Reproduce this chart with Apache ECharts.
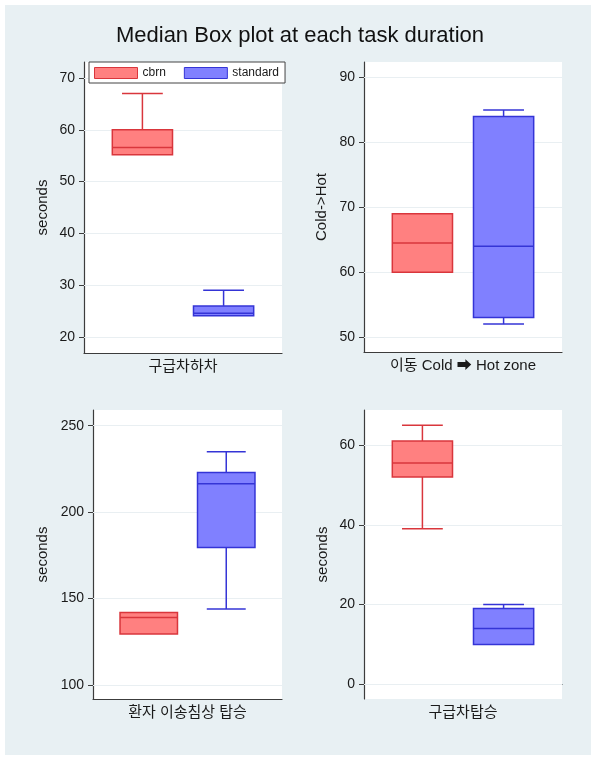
<!DOCTYPE html>
<html>
<head>
<meta charset="utf-8">
<script src="https://cdn.jsdelivr.net/npm/echarts@6/dist/echarts.min.js"></script>
<style>
  html, body { margin: 0; padding: 0; background: #ffffff; }
  #bg { position: absolute; left: 5px; top: 5px; width: 586px; height: 750px; background: #e8f0f3; }
  #chart { position: absolute; left: 0; top: 0; width: 600px; height: 762px; }
</style>
</head>
<body>
<div id="bg"></div>
<div id="chart"></div>
<script>
// ---- data ----
const titleText = 'Median Box plot at each task duration';
const categories = ['구급차하차', '이동 Cold ➡ Hot zone', '환자 이송침상 탑승', '구급차탑승'];
const yTitles = ['seconds', 'Cold->Hot', 'seconds', 'seconds'];
const seriesNames = ['cbrn', 'standard'];
// [min, Q1, median, Q3, max]
const cbrnStats = [
  [55.2, 55.2, 56.6, 60, 67],
  [60, 60, 64.5, 69, 69],
  [129.5, 129.5, 139, 142, 142],
  [39, 52, 55.5, 61, 65]
];
const standardStats = [
  [24.1, 24.1, 24.6, 26, 29],
  [52, 53, 64, 84, 85],
  [144, 179.5, 216.5, 223, 235],
  [10, 10, 14, 19, 20]
];
const yTicks = [
  [20, 30, 40, 50, 60, 70],
  [50, 60, 70, 80, 90],
  [100, 150, 200, 250],
  [0, 20, 40, 60]
];
const yMin = [16.9, 47.7, 91.9, -3.7];
const yMax = [73.1, 92.4, 259.1, 68.8];

// ---- styles / layout ----
const FONT = "'Liberation Sans', 'Noto Sans CJK KR', sans-serif";
const grids = [
  { left: 84, top: 62, width: 198, height: 291 },
  { left: 364, top: 62, width: 198, height: 290 },
  { left: 93, top: 410, width: 189, height: 289 },
  { left: 364, top: 410, width: 198, height: 289 }
];
const nameGaps = [34, 35, 43, 34];
const colors = {
  cbrn: { fill: '#ff8080', stroke: '#d9363c' },
  standard: { fill: '#8080ff', stroke: '#3434d6' }
};
const AXIS_COLOR = '#3c3c3c';

function makeRender(side, col) {
  return function (params, api) {
    const band = api.size([1, 0])[0];
    const cx = api.coord([api.value(0), 0])[0] + side * 0.205 * band;
    const yv = [1, 2, 3, 4, 5].map(function (d) { return api.coord([0, api.value(d)])[1]; });
    const hw = 0.152 * band, cw = 0.103 * band;
    const ls = { stroke: col.stroke, lineWidth: 1.5 };
    const children = [];
    if (api.value(5) > api.value(4)) {
      children.push({ type: 'line', shape: { x1: cx, y1: yv[3], x2: cx, y2: yv[4] }, style: ls });
      children.push({ type: 'line', shape: { x1: cx - cw, y1: yv[4], x2: cx + cw, y2: yv[4] }, style: ls });
    }
    if (api.value(1) < api.value(2)) {
      children.push({ type: 'line', shape: { x1: cx, y1: yv[1], x2: cx, y2: yv[0] }, style: ls });
      children.push({ type: 'line', shape: { x1: cx - cw, y1: yv[0], x2: cx + cw, y2: yv[0] }, style: ls });
    }
    children.push({ type: 'rect', shape: { x: cx - hw, y: yv[3], width: 2 * hw, height: yv[1] - yv[3] },
      style: { fill: col.fill, stroke: col.stroke, lineWidth: 1.5 } });
    children.push({ type: 'line', shape: { x1: cx - hw, y1: yv[2], x2: cx + hw, y2: yv[2] }, style: ls });
    return { type: 'group', children: children };
  };
}

const xAxes = [], yAxes = [], series = [];
categories.forEach(function (cat, i) {
  xAxes.push({
    type: 'category', gridIndex: i, data: [cat], boundaryGap: true,
    axisLine: { lineStyle: { color: AXIS_COLOR, width: 1.2 } },
    axisTick: { show: false },
    axisLabel: { color: '#1a1a1a', fontSize: 15, fontFamily: FONT, margin: 6 },
    splitLine: { show: false }
  });
  yAxes.push({
    type: 'value', gridIndex: i, min: yMin[i], max: yMax[i],
    name: yTitles[i], nameLocation: 'middle', nameGap: nameGaps[i],
    nameTextStyle: { color: '#1a1a1a', fontSize: 15, fontFamily: FONT },
    axisLine: { show: true, lineStyle: { color: AXIS_COLOR, width: 1.2 } },
    axisTick: { show: true, length: 5, lineStyle: { color: AXIS_COLOR }, customValues: yTicks[i] },
    axisLabel: { color: '#1a1a1a', fontSize: 14, fontFamily: FONT, margin: 9, customValues: yTicks[i] },
    splitLine: { show: false }
  });
  series.push({
    type: 'custom', name: 'cbrn', xAxisIndex: i, yAxisIndex: i,
    renderItem: makeRender(-1, colors.cbrn),
    itemStyle: { color: colors.cbrn.fill, borderColor: colors.cbrn.stroke },
    encode: { x: 0, y: [1, 2, 3, 4, 5] },
    data: [[0].concat(cbrnStats[i])],
    z: 3,
    markLine: {
      silent: true, symbol: 'none', label: { show: false },
      lineStyle: { color: '#e9eff2', width: 1, type: 'solid' },
      data: yTicks[i].map(function (v) { return { yAxis: v }; }),
      z: 1
    }
  });
  series.push({
    type: 'custom', name: 'standard', xAxisIndex: i, yAxisIndex: i,
    renderItem: makeRender(1, colors.standard),
    itemStyle: { color: colors.standard.fill, borderColor: colors.standard.stroke },
    encode: { x: 0, y: [1, 2, 3, 4, 5] },
    data: [[0].concat(standardStats[i])],
    z: 3
  });
});

const chart = echarts.init(document.getElementById('chart'), null, { renderer: 'canvas' });
chart.setOption({
  backgroundColor: 'transparent',
  animation: false,
  title: {
    text: titleText, left: 'center', top: 20,
    textStyle: { fontSize: 22, fontWeight: 'normal', color: '#111', fontFamily: FONT }
  },
  legend: {
    left: 89, top: 62, orient: 'horizontal',
    data: [
      { name: 'cbrn', icon: 'rect', itemStyle: { color: colors.cbrn.fill, borderColor: colors.cbrn.stroke, borderWidth: 1 } },
      { name: 'standard', icon: 'rect', itemStyle: { color: colors.standard.fill, borderColor: colors.standard.stroke, borderWidth: 1 } }
    ],
    itemWidth: 43, itemHeight: 11, itemGap: 18,
    padding: [5, 6, 4, 5],
    backgroundColor: '#ffffff', borderColor: '#444', borderWidth: 1,
    textStyle: { fontSize: 12, color: '#1a1a1a', fontFamily: FONT },
    selectedMode: false, z: 10
  },
  grid: grids.map(function (g) {
    return Object.assign({ show: true, backgroundColor: '#ffffff', borderWidth: 0 }, g);
  }),
  xAxis: xAxes,
  yAxis: yAxes,
  series: series
});
</script>
</body>
</html>
